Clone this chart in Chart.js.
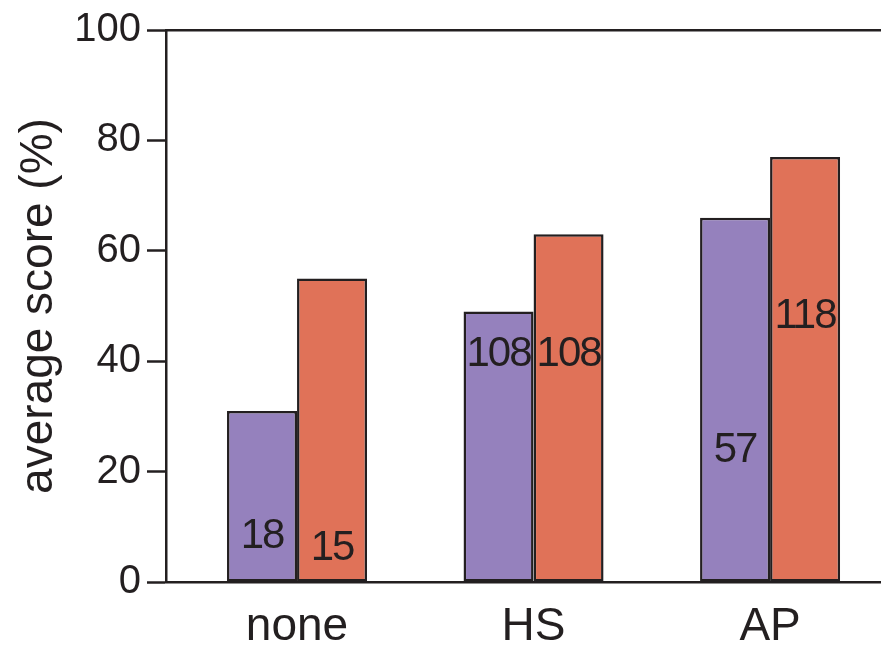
<!DOCTYPE html>
<html>
<head>
<meta charset="utf-8">
<script src="https://cdn.jsdelivr.net/npm/chart.js@4.4.1/dist/chart.umd.min.js"></script>
<style>
  html, body { margin: 0; padding: 0; background: #fff; overflow: hidden; }
  #wrap { width: 881px; height: 646px; }
</style>
</head>
<body>
<div id="wrap"><canvas id="scoreChart"></canvas></div>
<script>
// data
const categories = ["none", "HS", "AP"];
const purpleScores = [31, 49, 66];
const redScores = [55, 63, 77];
const purpleCounts = [18, 108, 57];
const redCounts = [15, 108, 118];
// where the count label sits (in % units on the y axis)
const purpleCountAt = [8.3, 41.3, 23.8];
const redCountAt = [6.1, 41.3, 48.2];
const yTicks = [0, 20, 40, 60, 80, 100];

const ink = "#231f20";
const fontFamily = "'Liberation Sans', Arial, Helvetica, sans-serif";

function toPoints(values) {
  return values.map((v, i) => ({ x: i, y: v }));
}

// draws the n counts inside the bars
const countLabels = {
  id: "countLabels",
  afterDatasetsDraw(chart) {
    const ctx = chart.ctx;
    const yScale = chart.scales.y;
    const sets = [[purpleCounts, purpleCountAt], [redCounts, redCountAt]];
    ctx.save();
    ctx.fillStyle = ink;
    ctx.font = "42px " + fontFamily;
    ctx.letterSpacing = "-2px";
    ctx.textAlign = "center";
    ctx.textBaseline = "middle";
    sets.forEach(([counts, at], d) => {
      chart.getDatasetMeta(d).data.forEach((bar, i) => {
        ctx.fillText(String(counts[i]), bar.x, yScale.getPixelForValue(at[i]));
      });
    });
    ctx.restore();
  }
};

new Chart(document.getElementById("scoreChart"), {
  type: "bar",
  data: {
    datasets: [
      {
        data: toPoints(purpleScores),
        backgroundColor: "#9581bd",
        borderColor: ink,
        borderWidth: 2.5,
        borderSkipped: false
      },
      {
        data: toPoints(redScores),
        backgroundColor: "#e07258",
        borderColor: ink,
        borderWidth: 2.5,
        borderSkipped: false
      }
    ]
  },
  options: {
    responsive: true,
    maintainAspectRatio: false,
    animation: false,
    categoryPercentage: 0.592,
    barPercentage: 1,
    layout: { padding: { top: 30, right: 0, bottom: 0, left: 0 } },
    plugins: {
      legend: { display: false },
      tooltip: { enabled: false }
    },
    scales: {
      x: {
        type: "linear",
        offset: false,
        min: -0.554,
        max: 2.469,
        afterFit: s => { s.height = 64; },
        grid: { display: false, offset: false },
        border: { display: true, color: ink, width: 2.5 },
        ticks: {
          stepSize: 1,
          includeBounds: false,
          autoSkip: false,
          maxRotation: 0,
          color: ink,
          padding: 10,
          font: { family: fontFamily, size: 46 },
          callback: v => (Number.isInteger(v) && categories[v] !== undefined) ? categories[v] : ""
        }
      },
      x2: {
        type: "linear",
        position: "top",
        min: 0,
        max: 1,
        afterFit: s => { s.height = 0; },
        grid: { display: false },
        border: { display: true, color: ink, width: 2.5 },
        ticks: { display: false }
      },
      y: {
        min: 0,
        max: 100,
        afterFit: s => { s.width = 166; },
        afterBuildTicks: s => { s.ticks = yTicks.map(v => ({ value: v })); },
        grid: {
          drawOnChartArea: false,
          drawTicks: true,
          tickLength: 19,
          tickWidth: 2.5,
          tickColor: ink
        },
        border: { display: true, color: ink, width: 2.5 },
        ticks: {
          color: ink,
          padding: 6,
          font: { family: fontFamily, size: 40 }
        },
        title: {
          display: true,
          text: "average score (%)",
          color: ink,
          padding: { top: 12, bottom: 0 },
          font: { family: fontFamily, size: 46 }
        }
      }
    }
  },
  plugins: [countLabels]
});
</script>
</body>
</html>
